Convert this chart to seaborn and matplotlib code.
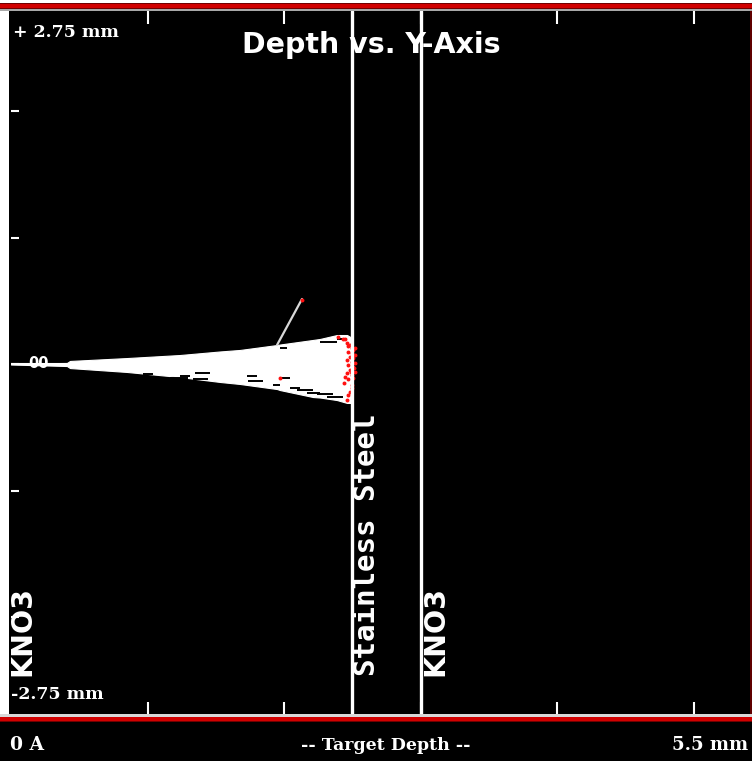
import numpy as np
import pandas as pd
import seaborn as sns
import matplotlib.pyplot as plt
from matplotlib.patches import Rectangle

# target layers (mm)
layer_bounds = [2.5, 3.0]
layer_names = ['KNO3', 'Stainless Steel', 'KNO3']
layer_label_x = [0.08, 2.61, 3.106]

# envelope of the ion fan (depth mm, lateral mm)
fan_x = [0.0, 0.410, 0.432, 0.850, 1.238, 1.531, 1.678, 1.949, 1.971, 2.212, 2.264, 2.388, 2.462, 2.498]
fan_upper = [0.004, 0.008, 0.024, 0.047, 0.071, 0.099, 0.111, 0.150, 0.154, 0.190, 0.198, 0.229, 0.229, 0.206]
fan_lower = [-0.004, -0.016, -0.032, -0.063, -0.103, -0.142, -0.158, -0.198, -0.206, -0.261, -0.265, -0.285, -0.308, -0.308]

# dark gaps between trajectories
gap_x0 = [0.967, 1.165, 1.238, 1.348, 1.333, 1.729, 1.736, 1.919, 2.044, 2.095, 2.168, 2.242, 2.315, 2.264, 1.971, 2.388, 1.971]
gap_x1 = [1.040, 1.297, 1.311, 1.458, 1.443, 1.802, 1.846, 1.971, 2.117, 2.212, 2.264, 2.359, 2.432, 2.388, 2.022, 2.462, 2.044]
gap_y = [-0.081, -0.108, -0.095, -0.074, -0.116, -0.095, -0.132, -0.166, -0.192, -0.206, -0.227, -0.240, -0.263, 0.176, 0.124, 0.195, -0.113]

# final ion positions (red)
stop_x = [2.398, 2.434, 2.459, 2.484, 2.496, 2.508, 2.471, 2.496, 2.484, 2.508, 2.459, 2.496, 2.520,
          2.471, 2.508, 2.484, 2.520, 2.459, 2.496, 2.447, 2.508, 2.471, 1.971, 2.471, 2.459, 2.130,
          2.498, 2.484, 2.450, 2.520, 2.510, 2.440, 2.500, 2.520, 2.470, 2.490]
stop_y = [0.216, 0.195, 0.164, 0.150, 0.124, 0.111, 0.097, 0.085, 0.058, 0.045, 0.032, 0.018, 0.006,
          -0.008, -0.021, -0.047, -0.061, -0.074, -0.087, -0.105, -0.113, -0.121, -0.113, -0.245, -0.285, 0.506,
          -0.166, -0.221, 0.200, 0.130, -0.030, -0.150, -0.190, 0.070, 0.140, -0.060]

# scattered track
recoil_x = [1.949, 2.132]
recoil_y = [0.150, 0.514]

# beam entry
beam_x = [0.0, 0.45]
beam_y = [0.0, 0.0]

sns.set_theme(style='dark', rc={'axes.facecolor': 'black', 'figure.facecolor': 'black'})

W, H = 752, 761
fig = plt.figure(figsize=(W / 100, H / 100), dpi=100)

# axis box: 0 mm at x=11px, 136.5 px per mm; y 126.5 px per mm, centre at 364px
ax_top, ax_bot = 11, 714
ax = fig.add_axes([11 / W, (H - ax_bot) / H, 5.5 * 136.5 / W, (ax_bot - ax_top) / H])
ax.set_xlim(0, 5.5)
ax.set_ylim(-(ax_bot - 364) / 126.5, (364 - ax_top) / 126.5)
ax.set_facecolor('black')
for s in ax.spines.values():
    s.set_visible(False)

# trajectories
ax.fill_between(fan_x, fan_lower, fan_upper, color='white', lw=0.8, edgecolor='white', zorder=2)
ax.hlines(gap_y, gap_x0, gap_x1, color='black', lw=1.4, zorder=3)
sns.lineplot(x=beam_x, y=beam_y, color='white', lw=1.5, ax=ax, zorder=2)
sns.lineplot(x=recoil_x, y=recoil_y, color='#d8d8d8', lw=1.6, ax=ax, zorder=2)
sns.scatterplot(x=stop_x, y=stop_y, color='#ff1010', s=8, linewidth=0, ax=ax, zorder=4)
ax.text(0.198, 0.0, '00', color='white', fontsize=10.5, fontweight='bold',
        ha='center', va='center', family='DejaVu Sans', zorder=3)

# layer boundaries
for b in layer_bounds:
    ax.axvline(b, color='white', lw=2.4, zorder=5)

for name, lx in zip(layer_names, layer_label_x):
    mono = name != 'KNO3'
    ax.text(lx, (364 - 676) / 126.5, name, rotation=90, color='white',
            fontsize=21 if mono else 20.5, fontweight='bold',
            family='DejaVu Sans Mono' if mono else 'DejaVu Sans',
            ha='center', va='bottom', zorder=6)

# ticks
ax.set_xticks([1, 2, 3, 4, 5])
ax.set_yticks([-2, -1, 0, 1, 2])
ax.set_yticks([-2, -1, 0, 1, 2], minor=True)
ax.tick_params(axis='x', which='major', direction='in', top=True, bottom=True, length=9,
               width=1.5, color='white', labelbottom=False, labeltop=False)
ax.tick_params(axis='y', which='major', direction='in', left=True, right=False, length=5.5,
               width=1.5, color='white', labelleft=False, labelright=False)
ax.tick_params(axis='y', which='minor', direction='in', left=False, right=True, length=10.5,
               width=1.5, color='white', labelleft=False, labelright=False)
ax.grid(False)

# window frame
def frame(x0, y0, x1, y1, c):
    fig.add_artist(Rectangle((x0 / W, 1 - y1 / H), (x1 - x0) / W, (y1 - y0) / H,
                             transform=fig.transFigure, color=c, lw=0, zorder=10))

frame(0, 0, W, 3, 'white')
frame(0, 0, 9, 718, 'white')
frame(0, 3, W, 9, '#d00000')
frame(0, 3, W, 4, '#700000')
frame(0, 8, W, 9, '#700000')
frame(0, 9, W, 11, '#a8a8a8')
frame(0, 714, W, 717, '#d8d8d8')
frame(0, 717, W, 722, '#d00000')
frame(0, 721, W, 722, '#700000')
frame(750, 11, W, 714, '#600000')

# labels
serif = dict(color='white', family='DejaVu Serif', fontweight='bold', zorder=11)
fig.text(371 / W, 1 - 53 / H, 'Depth vs. Y-Axis', color='white', fontsize=20.5,
         fontweight='bold', family='DejaVu Sans', ha='center', va='baseline', zorder=1)
fig.text(13 / W, 1 - 37 / H, '+ 2.75 mm', fontsize=12.5, ha='left', va='baseline', **serif)
fig.text(11 / W, 1 - 699 / H, '-2.75 mm', fontsize=12.5, ha='left', va='baseline', **serif)
fig.text(10 / W, 1 - 750 / H, '0 A', fontsize=13.5, ha='left', va='baseline', **serif)
fig.text(386 / W, 1 - 750 / H, '-- Target Depth --', fontsize=12.5, ha='center', va='baseline', **serif)
fig.text(672 / W, 1 - 750 / H, '5.5 mm', fontsize=13, ha='left', va='baseline', **serif)

plt.savefig('out.png', dpi=100, facecolor='black')
